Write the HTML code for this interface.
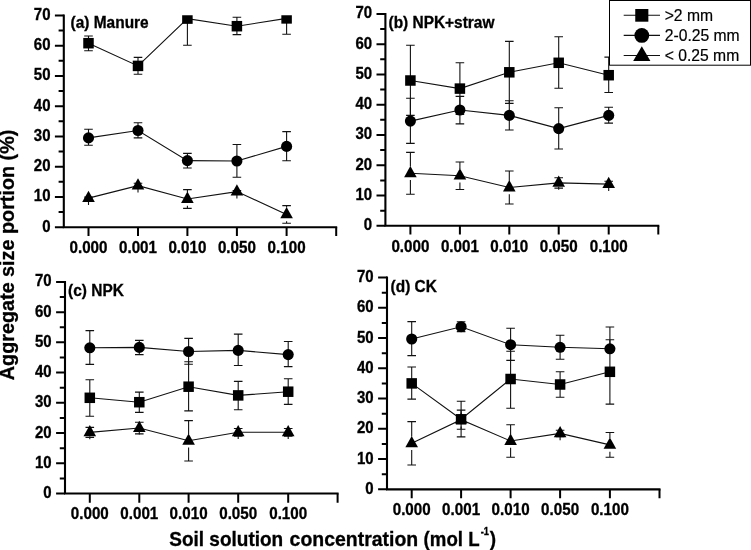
<!DOCTYPE html>
<html lang="en">
<head>
<meta charset="utf-8">
<title>Aggregate size portion vs soil solution concentration</title>
<style>
html,body{margin:0;padding:0;background:#fff;}
body{width:751px;height:550px;overflow:hidden;}
svg{display:block;font-family:"Liberation Sans",Arial,Helvetica,sans-serif;}
.ax{fill:none;stroke:#000;stroke-width:2.1;stroke-linejoin:miter;}
.tk{fill:none;stroke:#000;stroke-width:2;}
.l{fill:none;stroke:#111;stroke-width:1.1;}
.e{fill:none;stroke:#111;stroke-width:1.1;}
.data rect,.data circle,.data path:not(.l):not(.e){fill:#000;}
.yl,.xl,.tt,.yt,.xt{font-weight:bold;stroke:#000;stroke-width:0.3px;}
.yl{font-size:15px;text-anchor:end;}
.xl{font-size:15.2px;text-anchor:middle;}
.tt{font-size:15.45px;}
.lb{fill:#fff;stroke:#000;stroke-width:1;}
.lg{font-size:15.7px;stroke:#000;stroke-width:0.2px;}
.yt{font-size:19.8px;}
.xt{font-size:19px;}
.xt.sup{font-size:9.6px;}
</style>
</head>
<body>
<svg width="751" height="550" viewBox="0 0 751 550">
<rect width="751" height="550" fill="#fff"/>
<g id="panel-a">
<clipPath id="clip-a"><rect x="63.8" y="15.15" width="282.4" height="212.05"/></clipPath>
<g class="data" clip-path="url(#clip-a)">
<path class="e" d="M88.5 36V50.7M84.2 36H92.8M84.2 50.7H92.8M138 57.4V74.2M133.7 57.4H142.3M133.7 74.2H142.3M187.4 18.6V45.3M183.1 45.3H191.7M236.9 17.25V34.6M232.6 17.25H241.2M232.6 34.6H241.2M286.6 18.4V34.3M282.3 34.3H290.9"/>
<path class="l" d="M88.5 43.2L138 65.9L187.4 18.6L236.9 26.2L286.6 18.4"/>
<rect x="83.25" y="37.95" width="10.5" height="10.5"/><rect x="132.75" y="60.65" width="10.5" height="10.5"/><rect x="182.15" y="13.35" width="10.5" height="10.5"/><rect x="231.65" y="20.95" width="10.5" height="10.5"/><rect x="281.35" y="13.15" width="10.5" height="10.5"/>
<path class="e" d="M88.5 129.2V145.3M84.2 129.2H92.8M84.2 145.3H92.8M138 122.8V137.9M133.7 122.8H142.3M133.7 137.9H142.3M187.4 153.4V168M183.1 153.4H191.7M183.1 168H191.7M236.9 144.5V177.2M232.6 144.5H241.2M232.6 177.2H241.2M286.6 131.6V160.8M282.3 131.6H290.9M282.3 160.8H290.9"/>
<path class="l" d="M88.5 137.9L138 130.5L187.4 160.6L236.9 161L286.6 146.4"/>
<circle cx="88.5" cy="137.9" r="5.55"/><circle cx="138" cy="130.5" r="5.55"/><circle cx="187.4" cy="160.6" r="5.55"/><circle cx="236.9" cy="161" r="5.55"/><circle cx="286.6" cy="146.4" r="5.55"/>
<path class="e" d="M88.5 199.1V204.9M84.2 197.1H92.8M84.2 199.1H92.8M138 187.9V192.4M133.7 183.3H142.3M133.7 187.9H142.3M187.4 189.6V192.2M187.4 205.8V208.4M183.1 189.6H191.7M183.1 208.4H191.7M236.9 192.6V198.4M232.6 190.6H241.2M232.6 192.6H241.2M286.6 205.6V207.6M286.6 221.2V223.2M282.3 205.6H290.9M282.3 223.2H290.9"/>
<path class="l" d="M88.5 198.1L138 185.6L187.4 199L236.9 191.6L286.6 214.4"/>
<path d="M88.5 190.7L94.8 202H82.2Z"/><path d="M138 178.2L144.3 189.5H131.7Z"/><path d="M187.4 191.6L193.7 202.9H181.1Z"/><path d="M236.9 184.2L243.2 195.5H230.6Z"/><path d="M286.6 207L292.9 218.3H280.3Z"/>
</g>
<path class="ax" d="M63.8 14.45V227.2H337.2"/>
<path class="tk" d="M63.8 15.45H54.9M63.8 30.57H58.6M63.8 45.7H54.9M63.8 60.83H58.6M63.8 75.95H54.9M63.8 91.08H58.6M63.8 106.2H54.9M63.8 121.33H58.6M63.8 136.45H54.9M63.8 151.57H58.6M63.8 166.7H54.9M63.8 181.82H58.6M63.8 196.95H54.9M63.8 212.07H58.6M63.8 227.2H54.9M88.5 227.2V236M138 227.2V236M187.4 227.2V236M236.9 227.2V236M286.6 227.2V236M336.2 227.2V236"/>
<text class="yl" transform="translate(50.5 19.95) scale(1 1.085)">70</text>
<text class="yl" transform="translate(50.5 50.2) scale(1 1.085)">60</text>
<text class="yl" transform="translate(50.5 80.45) scale(1 1.085)">50</text>
<text class="yl" transform="translate(50.5 110.7) scale(1 1.085)">40</text>
<text class="yl" transform="translate(50.5 140.95) scale(1 1.085)">30</text>
<text class="yl" transform="translate(50.5 171.2) scale(1 1.085)">20</text>
<text class="yl" transform="translate(50.5 201.45) scale(1 1.085)">10</text>
<text class="yl" transform="translate(50.5 231.7) scale(1 1.085)">0</text>
<text class="xl" transform="translate(88.5 252.6) scale(1 1.045)">0.000</text>
<text class="xl" transform="translate(138 252.6) scale(1 1.045)">0.001</text>
<text class="xl" transform="translate(187.4 252.6) scale(1 1.045)">0.010</text>
<text class="xl" transform="translate(236.9 252.6) scale(1 1.045)">0.050</text>
<text class="xl" transform="translate(286.6 252.6) scale(1 1.045)">0.100</text>
<text class="tt" transform="translate(70.6 28) scale(1 1.085)">(a) Manure</text>
</g>
<g id="panel-b">
<clipPath id="clip-b"><rect x="385.4" y="13.6" width="282.9" height="212.2"/></clipPath>
<g class="data" clip-path="url(#clip-b)">
<path class="e" d="M410.4 45.3V115.4M406.1 45.3H414.7M406.1 115.4H414.7M459.9 62.8V114.4M455.6 62.8H464.2M455.6 114.4H464.2M509.3 41.4V103.4M505 41.4H513.6M505 103.4H513.6M558.7 36.8V88.3M554.4 36.8H563M554.4 88.3H563M608.7 57.1V92.5M604.4 57.1H613M604.4 92.5H613"/>
<path class="l" d="M410.4 80.5L459.9 88.6L509.3 72.3L558.7 62.8L608.7 75.2"/>
<rect x="405.15" y="75.25" width="10.5" height="10.5"/><rect x="454.65" y="83.35" width="10.5" height="10.5"/><rect x="504.05" y="67.05" width="10.5" height="10.5"/><rect x="553.45" y="57.55" width="10.5" height="10.5"/><rect x="603.45" y="69.95" width="10.5" height="10.5"/>
<path class="e" d="M410.4 98.2V143.4M406.1 98.2H414.7M406.1 143.4H414.7M459.9 96.4V123.9M455.6 96.4H464.2M455.6 123.9H464.2M509.3 100.8V130M505 100.8H513.6M505 130H513.6M558.7 107.8V149M554.4 107.8H563M554.4 149H563M608.7 107.3V123.1M604.4 107.3H613M604.4 123.1H613"/>
<path class="l" d="M410.4 121.1L459.9 110L509.3 115.4L558.7 128.6L608.7 115.4"/>
<circle cx="410.4" cy="121.1" r="5.55"/><circle cx="459.9" cy="110" r="5.55"/><circle cx="509.3" cy="115.4" r="5.55"/><circle cx="558.7" cy="128.6" r="5.55"/><circle cx="608.7" cy="115.4" r="5.55"/>
<path class="e" d="M410.4 152.35V166.5M410.4 180.1V194.25M406.1 152.35H414.7M406.1 194.25H414.7M459.9 161.95V168.9M459.9 182.5V189.45M455.6 161.95H464.2M455.6 189.45H464.2M509.3 171V180.7M509.3 194.3V204M505 171H513.6M505 204H513.6M558.7 186.8V189.7M554.4 177.7H563M554.4 188.1H563M608.7 187V190.9M604.4 181.2H613M604.4 187H613"/>
<path class="l" d="M410.4 173.3L459.9 175.7L509.3 187.5L558.7 182.9L608.7 184.1"/>
<path d="M410.4 165.9L416.7 177.2H404.1Z"/><path d="M459.9 168.3L466.2 179.6H453.6Z"/><path d="M509.3 180.1L515.6 191.4H503Z"/><path d="M558.7 175.5L565 186.8H552.4Z"/><path d="M608.7 176.7L615 188H602.4Z"/>
</g>
<path class="ax" d="M385.4 12.9V225.8H659.3"/>
<path class="tk" d="M385.4 13.9H376.5M385.4 29.04H380.2M385.4 44.17H376.5M385.4 59.31H380.2M385.4 74.44H376.5M385.4 89.58H380.2M385.4 104.71H376.5M385.4 119.85H380.2M385.4 134.99H376.5M385.4 150.12H380.2M385.4 165.26H376.5M385.4 180.39H380.2M385.4 195.53H376.5M385.4 210.66H380.2M385.4 225.8H376.5M410.4 225.8V234.6M459.9 225.8V234.6M509.3 225.8V234.6M558.7 225.8V234.6M608.7 225.8V234.6M658.3 225.8V234.6"/>
<text class="yl" transform="translate(372.1 18.4) scale(1 1.085)">70</text>
<text class="yl" transform="translate(372.1 48.67) scale(1 1.085)">60</text>
<text class="yl" transform="translate(372.1 78.94) scale(1 1.085)">50</text>
<text class="yl" transform="translate(372.1 109.21) scale(1 1.085)">40</text>
<text class="yl" transform="translate(372.1 139.49) scale(1 1.085)">30</text>
<text class="yl" transform="translate(372.1 169.76) scale(1 1.085)">20</text>
<text class="yl" transform="translate(372.1 200.03) scale(1 1.085)">10</text>
<text class="yl" transform="translate(372.1 230.3) scale(1 1.085)">0</text>
<text class="xl" transform="translate(410.4 251.7) scale(1 1.045)">0.000</text>
<text class="xl" transform="translate(459.9 251.7) scale(1 1.045)">0.001</text>
<text class="xl" transform="translate(509.3 251.7) scale(1 1.045)">0.010</text>
<text class="xl" transform="translate(558.7 251.7) scale(1 1.045)">0.050</text>
<text class="xl" transform="translate(608.7 251.7) scale(1 1.045)">0.100</text>
<text class="tt" transform="translate(388.5 28.1) scale(1 1.085)">(b) NPK+straw</text>
</g>
<g id="panel-c">
<clipPath id="clip-c"><rect x="65" y="281.6" width="282.6" height="211.9"/></clipPath>
<g class="data" clip-path="url(#clip-c)">
<path class="e" d="M89.8 379.7V416.2M85.5 379.7H94.1M85.5 416.2H94.1M139.3 392.1V412.4M135 392.1H143.6M135 412.4H143.6M188.6 361.8V410.9M184.3 361.8H192.9M184.3 410.9H192.9M238.2 381.4V409.8M233.9 381.4H242.5M233.9 409.8H242.5M288.2 378.8V404.4M283.9 378.8H292.5M283.9 404.4H292.5"/>
<path class="l" d="M89.8 397.8L139.3 402.2L188.6 386.7L238.2 395.4L288.2 391.7"/>
<rect x="84.55" y="392.55" width="10.5" height="10.5"/><rect x="134.05" y="396.95" width="10.5" height="10.5"/><rect x="183.35" y="381.45" width="10.5" height="10.5"/><rect x="232.95" y="390.15" width="10.5" height="10.5"/><rect x="282.95" y="386.45" width="10.5" height="10.5"/>
<path class="e" d="M89.8 330.6V364.4M85.5 330.6H94.1M85.5 364.4H94.1M139.3 340.4V354.6M135 340.4H143.6M135 354.6H143.6M188.6 338.4V364.2M184.3 338.4H192.9M184.3 364.2H192.9M238.2 334.1V365.5M233.9 334.1H242.5M233.9 365.5H242.5M288.2 341.5V366.6M283.9 341.5H292.5M283.9 366.6H292.5"/>
<path class="l" d="M89.8 347.8L139.3 347.4L188.6 351.5L238.2 350.4L288.2 354.6"/>
<circle cx="89.8" cy="347.8" r="5.55"/><circle cx="139.3" cy="347.4" r="5.55"/><circle cx="188.6" cy="351.5" r="5.55"/><circle cx="238.2" cy="350.4" r="5.55"/><circle cx="288.2" cy="354.6" r="5.55"/>
<path class="e" d="M89.8 436.3V439.2M85.5 427.4H94.1M85.5 437.4H94.1M139.3 431.95V434.85M135 422.2H143.6M135 433.9H143.6M188.6 420.6V434M188.6 447.6V461M184.3 420.6H192.9M184.3 461H192.9M238.2 436.1V439.1M233.9 428.5H242.5M233.9 436.1H242.5M288.2 436.1V439.1M283.9 428.5H292.5M283.9 436.1H292.5"/>
<path class="l" d="M89.8 432.4L139.3 428.05L188.6 440.8L238.2 432.3L288.2 432.3"/>
<path d="M89.8 425L96.1 436.3H83.5Z"/><path d="M139.3 420.65L145.6 431.95H133Z"/><path d="M188.6 433.4L194.9 444.7H182.3Z"/><path d="M238.2 424.9L244.5 436.2H231.9Z"/><path d="M288.2 424.9L294.5 436.2H281.9Z"/>
</g>
<path class="ax" d="M65 280.9V493.5H338.6"/>
<path class="tk" d="M65 281.9H56.1M65 297.01H59.8M65 312.13H56.1M65 327.24H59.8M65 342.36H56.1M65 357.47H59.8M65 372.59H56.1M65 387.7H59.8M65 402.81H56.1M65 417.93H59.8M65 433.04H56.1M65 448.16H59.8M65 463.27H56.1M65 478.39H59.8M65 493.5H56.1M89.8 493.5V502.8M139.3 493.5V502.8M188.6 493.5V502.8M238.2 493.5V502.8M288.2 493.5V502.8M337.6 493.5V502.8"/>
<text class="yl" transform="translate(51.7 286.4) scale(1 1.085)">70</text>
<text class="yl" transform="translate(51.7 316.63) scale(1 1.085)">60</text>
<text class="yl" transform="translate(51.7 346.86) scale(1 1.085)">50</text>
<text class="yl" transform="translate(51.7 377.09) scale(1 1.085)">40</text>
<text class="yl" transform="translate(51.7 407.31) scale(1 1.085)">30</text>
<text class="yl" transform="translate(51.7 437.54) scale(1 1.085)">20</text>
<text class="yl" transform="translate(51.7 467.77) scale(1 1.085)">10</text>
<text class="yl" transform="translate(51.7 498) scale(1 1.085)">0</text>
<text class="xl" transform="translate(89.8 519.4) scale(1 1.045)">0.000</text>
<text class="xl" transform="translate(139.3 519.4) scale(1 1.045)">0.001</text>
<text class="xl" transform="translate(188.6 519.4) scale(1 1.045)">0.010</text>
<text class="xl" transform="translate(238.2 519.4) scale(1 1.045)">0.050</text>
<text class="xl" transform="translate(288.2 519.4) scale(1 1.045)">0.100</text>
<text class="tt" transform="translate(68.1 296.3) scale(1 1.085)">(c) NPK</text>
</g>
<g id="panel-d">
<clipPath id="clip-d"><rect x="387" y="277.2" width="282.5" height="212.15"/></clipPath>
<g class="data" clip-path="url(#clip-d)">
<path class="e" d="M411.7 367V399.1M407.4 367H416M407.4 399.1H416M461.1 401.2V436.9M456.8 401.2H465.4M456.8 436.9H465.4M510.6 351.3V408.3M506.3 351.3H514.9M506.3 408.3H514.9M560.1 371.8V397.2M555.8 371.8H564.4M555.8 397.2H564.4M609.9 327V404.1M605.6 327H614.2M605.6 404.1H614.2"/>
<path class="l" d="M411.7 383.4L461.1 419.3L510.6 379L560.1 384.5L609.9 371.8"/>
<rect x="406.45" y="378.15" width="10.5" height="10.5"/><rect x="455.85" y="414.05" width="10.5" height="10.5"/><rect x="505.35" y="373.75" width="10.5" height="10.5"/><rect x="554.85" y="379.25" width="10.5" height="10.5"/><rect x="604.65" y="366.55" width="10.5" height="10.5"/>
<path class="e" d="M411.7 321.6V355.6M407.4 321.6H416M407.4 355.6H416M461.1 321.8V331.6M456.8 321.8H465.4M456.8 331.6H465.4M510.6 328.3V360.4M506.3 328.3H514.9M506.3 360.4H514.9M560.1 335.3V359.3M555.8 335.3H564.4M555.8 359.3H564.4M609.9 339.7V348.8M605.6 339.7H614.2"/>
<path class="l" d="M411.7 339L461.1 326.7L510.6 344.7L560.1 347.3L609.9 348.8"/>
<circle cx="411.7" cy="339" r="5.55"/><circle cx="461.1" cy="326.7" r="5.55"/><circle cx="510.6" cy="344.7" r="5.55"/><circle cx="560.1" cy="347.3" r="5.55"/><circle cx="609.9" cy="348.8" r="5.55"/>
<path class="e" d="M411.7 421.6V436.5M411.7 450.1V465M407.4 421.6H416M407.4 465H416M461.1 410.1V412.9M461.1 426.5V429.3M456.8 410.1H465.4M456.8 429.3H465.4M510.6 424.75V434.2M510.6 447.8V457.25M506.3 424.75H514.9M506.3 457.25H514.9M560.1 436.6V440.2M555.8 430.2H564.4M555.8 436.6H564.4M609.9 432.55V438.1M609.9 451.7V457.25M605.6 432.55H614.2M605.6 457.25H614.2"/>
<path class="l" d="M411.7 443.3L461.1 419.7L510.6 441L560.1 433.4L609.9 444.9"/>
<path d="M411.7 435.9L418 447.2H405.4Z"/><path d="M461.1 412.3L467.4 423.6H454.8Z"/><path d="M510.6 433.6L516.9 444.9H504.3Z"/><path d="M560.1 426L566.4 437.3H553.8Z"/><path d="M609.9 437.5L616.2 448.8H603.6Z"/>
</g>
<path class="ax" d="M387 276.5V489.35H660.5"/>
<path class="tk" d="M387 277.5H378.1M387 292.63H381.8M387 307.76H378.1M387 322.9H381.8M387 338.03H378.1M387 353.16H381.8M387 368.29H378.1M387 383.43H381.8M387 398.56H378.1M387 413.69H381.8M387 428.82H378.1M387 443.95H381.8M387 459.09H378.1M387 474.22H381.8M387 489.35H378.1M411.7 489.35V498.15M461.1 489.35V498.15M510.6 489.35V498.15M560.1 489.35V498.15M609.9 489.35V498.15M659.5 489.35V498.15"/>
<text class="yl" transform="translate(373.7 282) scale(1 1.085)">70</text>
<text class="yl" transform="translate(373.7 312.26) scale(1 1.085)">60</text>
<text class="yl" transform="translate(373.7 342.53) scale(1 1.085)">50</text>
<text class="yl" transform="translate(373.7 372.79) scale(1 1.085)">40</text>
<text class="yl" transform="translate(373.7 403.06) scale(1 1.085)">30</text>
<text class="yl" transform="translate(373.7 433.32) scale(1 1.085)">20</text>
<text class="yl" transform="translate(373.7 463.59) scale(1 1.085)">10</text>
<text class="yl" transform="translate(373.7 493.85) scale(1 1.085)">0</text>
<text class="xl" transform="translate(411.7 514.75) scale(1 1.045)">0.000</text>
<text class="xl" transform="translate(461.1 514.75) scale(1 1.045)">0.001</text>
<text class="xl" transform="translate(510.6 514.75) scale(1 1.045)">0.010</text>
<text class="xl" transform="translate(560.1 514.75) scale(1 1.045)">0.050</text>
<text class="xl" transform="translate(609.9 514.75) scale(1 1.045)">0.100</text>
<text class="tt" transform="translate(390.6 292.3) scale(1 1.085)">(d) CK</text>
</g>
<g id="legend">
<rect class="lb" x="609.5" y="0.5" width="141" height="64.7"/>
<path class="l" d="M623.7 15.3H660M623.7 35.4H660M623.7 55.5H660"/>
<rect x="635.25" y="9" width="13.1" height="12.7"/>
<circle cx="641.8" cy="35.4" r="7.4"/>
<path d="M641.8 46.3L650.4 61.1H633.2Z"/>
<text class="lg" transform="translate(664.7 21.1) scale(1 1.07)">&gt;2 mm</text>
<text class="lg" transform="translate(664.7 41.2) scale(1 1.07)">2-0.25 mm</text>
<text class="lg" transform="translate(664.7 61.3) scale(1 1.07)">&lt; 0.25 mm</text>
</g>
<text class="yt" transform="translate(14 254.9) rotate(-90)" text-anchor="middle">Aggregate size portion (%)</text>
<g id="x-title">
<text class="xt" transform="translate(169.3 545.6) scale(1 1.03)">Soil solution</text>
<text class="xt" transform="translate(289.6 545.6) scale(1.024 1.03)">concentration</text>
<text class="xt" transform="translate(423.6 545.6) scale(0.982 1.03)">(mol L</text>
<text class="xt sup" transform="translate(480.7 534.6) scale(0.97 1.2)">-1</text>
<text class="xt" transform="translate(489.7 545.6) scale(1 1.03)">)</text>
</g>
</svg>
</body>
</html>
